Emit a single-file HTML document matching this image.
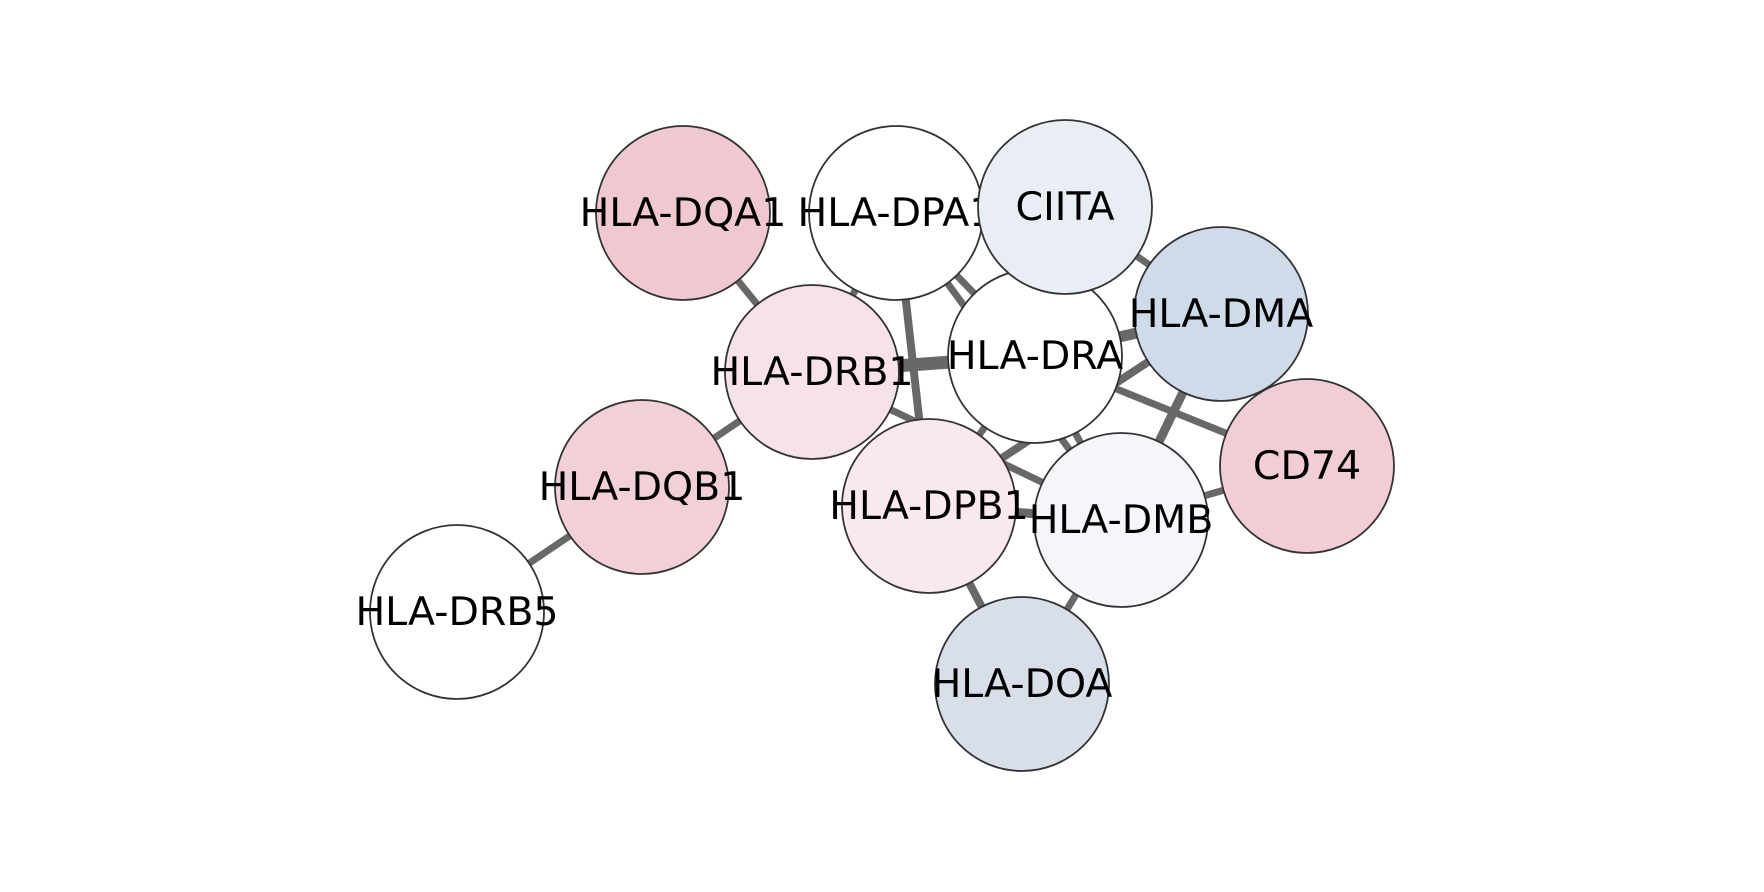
<!DOCTYPE html>
<html><head><style>html,body{margin:0;padding:0;background:#fff;}svg{display:block}</style></head><body>
<svg width="1764" height="892" viewBox="0 0 1764 892" xmlns="http://www.w3.org/2000/svg">
<g stroke="#686868" stroke-width="7" stroke-linecap="butt">
<line x1="683" y1="213" x2="812" y2="372"/>
<line x1="812" y1="372" x2="642" y2="487"/>
<line x1="642" y1="487" x2="457" y2="612"/>
<line x1="812" y1="372" x2="1035" y2="356" stroke-width="13"/>
<line x1="896" y1="213" x2="929" y2="506" stroke-width="8"/>
<line x1="896" y1="213" x2="1035" y2="356"/>
<line x1="896" y1="213" x2="1121" y2="520"/>
<line x1="812" y1="372" x2="896" y2="213"/>
<line x1="1065" y1="207" x2="1221" y2="314"/>
<line x1="1035" y1="356" x2="1221" y2="314" stroke-width="11"/>
<line x1="1035" y1="356" x2="1307" y2="466"/>
<line x1="1221" y1="314" x2="1121" y2="520" stroke-width="9"/>
<line x1="1221" y1="314" x2="929" y2="506" stroke-width="8"/>
<line x1="1121" y1="520" x2="1307" y2="466"/>
<line x1="1035" y1="356" x2="1121" y2="520"/>
<line x1="1035" y1="356" x2="929" y2="506"/>
<line x1="929" y1="506" x2="1121" y2="520" stroke-width="9"/>
<line x1="812" y1="372" x2="1121" y2="520"/>
<line x1="929" y1="506" x2="1022" y2="684" stroke-width="8"/>
<line x1="1121" y1="520" x2="1022" y2="684"/>
</g>
<g font-family="DejaVu Sans, sans-serif" font-size="39.5" text-anchor="middle" dominant-baseline="central" fill="#000">
<circle cx="457" cy="612" r="87" fill="#ffffff" stroke="#333" stroke-width="1.8"/><text x="457" y="612">HLA-DRB5</text>
<circle cx="642" cy="487" r="87" fill="#f2d0d7" stroke="#333" stroke-width="1.8"/><text x="642" y="487">HLA-DQB1</text>
<circle cx="683" cy="213" r="87" fill="#f0c8d0" stroke="#333" stroke-width="1.8"/><text x="683" y="213">HLA-DQA1</text>
<circle cx="812" cy="372" r="87" fill="#f7e2e7" stroke="#333" stroke-width="1.8"/><text x="812" y="372">HLA-DRB1</text>
<circle cx="896" cy="213" r="87" fill="#ffffff" stroke="#333" stroke-width="1.8"/><text x="896" y="213">HLA-DPA1</text>
<circle cx="1035" cy="356" r="87" fill="#ffffff" stroke="#333" stroke-width="1.8"/><text x="1035" y="356">HLA-DRA</text>
<circle cx="1065" cy="207" r="87" fill="#e9edf4" stroke="#333" stroke-width="1.8"/><text x="1065" y="207">CIITA</text>
<circle cx="1221" cy="314" r="87" fill="#cfdbe8" stroke="#333" stroke-width="1.8"/><text x="1221" y="314">HLA-DMA</text>
<circle cx="1307" cy="466" r="87" fill="#f1ced5" stroke="#333" stroke-width="1.8"/><text x="1307" y="466">CD74</text>
<circle cx="929" cy="506" r="87" fill="#f9e9ed" stroke="#333" stroke-width="1.8"/><text x="929" y="506">HLA-DPB1</text>
<circle cx="1121" cy="520" r="87" fill="#f5f6fa" stroke="#333" stroke-width="1.8"/><text x="1121" y="520">HLA-DMB</text>
<circle cx="1022" cy="684" r="87" fill="#d8dfe9" stroke="#333" stroke-width="1.8"/><text x="1022" y="684">HLA-DOA</text>
</g>
</svg>
</body></html>
